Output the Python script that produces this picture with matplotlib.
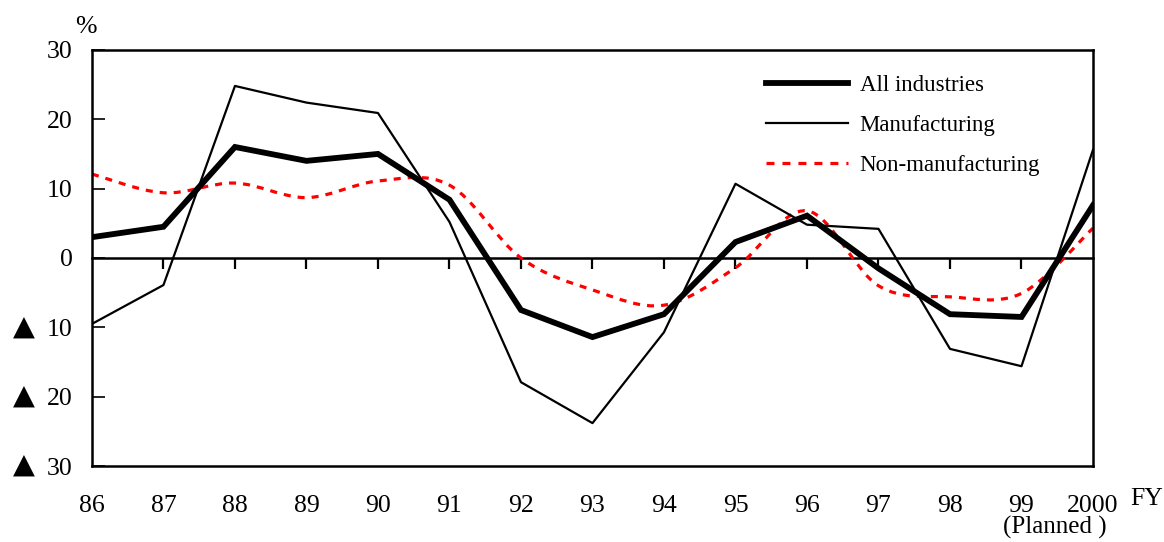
import numpy as np
import matplotlib.pyplot as plt
from matplotlib.path import Path
from matplotlib.patches import PathPatch
from matplotlib.lines import Line2D
from matplotlib.transforms import offset_copy

years = ['86', '87', '88', '89', '90', '91', '92', '93', '94', '95', '96', '97', '98', '99', '2000']
all_ind = [3.0, 4.5, 16.0, 14.0, 15.0, 8.4, -7.5, -11.4, -8.1, 2.3, 6.1, -1.5, -8.1, -8.5, 7.6]
manuf = [-9.5, -3.9, 24.8, 22.4, 20.9, 5.2, -17.9, -23.8, -10.7, 10.7, 4.8, 4.2, -13.1, -15.6, 15.6]
non_manuf = [12.1, 9.4, 10.8, 8.7, 11.1, 10.5, 0.0, -4.6, -6.8, -1.4, 6.8, -4.0, -5.6, -5.1, 4.3]
yticks = [30, 20, 10, 0, -10, -20, -30]
ytick_labels = ['30', '20', '10', '0', '10', '20', '30']

serif = ['Liberation Serif', 'DejaVu Sans']
plt.rcParams['font.family'] = serif

fig = plt.figure(figsize=(11.64, 5.42), dpi=100)
ax = fig.add_axes([0.079, 0.140, 0.860, 0.768])

x = np.arange(len(years))

# smoothed red line (catmull-rom style bezier through the points)
def smooth_path(xs, ys):
    pts = np.column_stack([xs, ys]).astype(float)
    ext = np.vstack([pts[0], pts, pts[-1]])
    verts = [pts[0]]
    codes = [Path.MOVETO]
    for i in range(len(pts) - 1):
        p0, p1, p2, p3 = ext[i], ext[i + 1], ext[i + 2], ext[i + 3]
        c1 = p1 + (p2 - p0) / 6
        c2 = p2 - (p3 - p1) / 6
        verts += [c1, c2, p2]
        codes += [Path.CURVE4] * 3
    return Path(verts, codes)

red_style = dict(color='red', linewidth=2.3, linestyle=(0, (2.5, 2.5)))
ax.add_patch(PathPatch(smooth_path(x, non_manuf), facecolor='none', edgecolor='red',
                       linewidth=2.3, linestyle=(0, (2.2, 2.2)), zorder=2))
ax.plot(x, manuf, color='black', linewidth=1.6, zorder=3)
ax.plot(x, all_ind, color='black', linewidth=4.2, zorder=4, solid_joinstyle='miter')

ax.set_xlim(0, len(years) - 1)
ax.set_ylim(-30, 30)

for s in ax.spines.values():
    s.set_linewidth(1.8)

ax.set_yticks(yticks)
ax.set_yticklabels(ytick_labels)
ax.tick_params(axis='y', direction='in', length=9, width=1.2, pad=14, labelsize=18.5)
ax.set_xticks(x)
ax.set_xticklabels(years)
ax.tick_params(axis='x', length=0, pad=21, labelsize=18.5)

# negative values marked with a triangle
tri_trans = offset_copy(ax.get_yaxis_transform(), fig=fig, y=3, units='points')
for v in yticks:
    if v < 0:
        ax.text(-0.068, v, '▲', transform=tri_trans, fontsize=20.5,
                family='DejaVu Sans', ha='center', va='center_baseline')

# zero line with small upward ticks
zero = ax.secondary_xaxis(0.5)
zero.set_xticks(x[1:-1])
zero.tick_params(axis='x', direction='in', length=8, width=1.6, labelbottom=False, labeltop=False)
for s in zero.spines.values():
    s.set_linewidth(1.8)

ax.text(-0.006, 1.028, '%', transform=ax.transAxes, fontsize=18.5, ha='center', va='bottom')
ax.text(1.054, -0.052, 'FY', transform=ax.transAxes, fontsize=18.5, ha='center', va='top')
ax.text(0.962, -0.176, '(Planned )', transform=ax.transAxes, fontsize=18, ha='center', va='bottom')

handles = [Line2D([], [], color='black', linewidth=4.2),
           Line2D([], [], color='black', linewidth=1.6),
           Line2D([], [], **red_style)]
labels = ['All industries', 'Manufacturing', 'Non-manufacturing']
ax.legend(handles, labels, loc='upper left', bbox_to_anchor=(0.673, 0.94), frameon=False,
          fontsize=16.5, handlelength=3.6, handletextpad=0.5, labelspacing=0.83,
          borderpad=0, borderaxespad=0)

fig.savefig('out.png', dpi=100)
